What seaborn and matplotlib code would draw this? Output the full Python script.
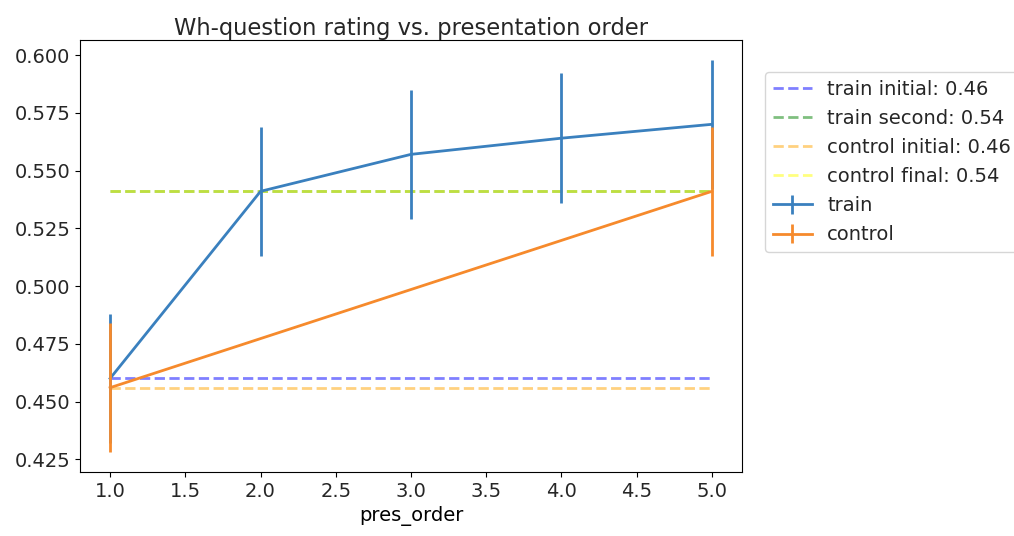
import numpy as np
import pandas as pd
import matplotlib
matplotlib.use("Agg")
import matplotlib.pyplot as plt
import seaborn as sns
from matplotlib.container import ErrorbarContainer

# Mean Wh-question rating per presentation position
train_order = [1, 2, 3, 4, 5]
train_rating = [0.460, 0.541, 0.557, 0.564, 0.570]
train_err = [0.028, 0.028, 0.028, 0.028, 0.028]

control_order = [1, 5]
control_rating = [0.456, 0.541]
control_err = [0.028, 0.028]

# Reference levels (initial / later block means)
ref_labels = ["train initial: 0.46", "train second: 0.54",
              "control initial: 0.46", "control final: 0.54"]
ref_values = [0.460, 0.541, 0.456, 0.541]
ref_colors = ["blue", "green", "orange", "yellow"]

groups = ["train", "control"]
group_colors = ["#3a80be", "#f68a2c"]

df = pd.DataFrame({
    "pres_order": train_order + control_order,
    "rating": train_rating + control_rating,
    "err": train_err + control_err,
    "group": ["train"] * len(train_order) + ["control"] * len(control_order),
})

plt.rcParams["font.family"] = ["DejaVu Sans"]
plt.rcParams["text.color"] = "#262626"
plt.rcParams["xtick.labelcolor"] = "#262626"
plt.rcParams["ytick.labelcolor"] = "#262626"
fig = plt.figure(figsize=(10.14, 5.36), dpi=100)
ax = fig.add_axes([80 / 1014, 64 / 536, 662 / 1014, 432 / 536])

ref_handles = []
for lab, val, col in zip(ref_labels, ref_values, ref_colors):
    h = ax.hlines(val, 1, 5, colors=col, linestyles="--", alpha=0.5,
                  linewidth=2.0, label=lab)
    ref_handles.append(h)

sns.lineplot(data=df, x="pres_order", y="rating", hue="group",
             hue_order=groups, palette=group_colors, errorbar=None,
             linewidth=2.0, ax=ax, legend=False)

group_handles = []
for g, col, line in zip(groups, group_colors, ax.lines[-2:]):
    sub = df[df["group"] == g]
    eb = ax.errorbar(sub["pres_order"], sub["rating"], yerr=sub["err"],
                     fmt="none", ecolor=col, elinewidth=2.0)
    group_handles.append(ErrorbarContainer((line, (), eb.lines[2]),
                                           has_yerr=True, label=g))

ax.set_title("Wh-question rating vs. presentation order", fontsize=16.3, pad=1)
ax.set_xlabel("pres_order", fontsize=14)
ax.set_ylabel("")
ax.tick_params(labelsize=14)
ax.set_yticks(np.arange(0.425, 0.6001, 0.025))

fig.legend(ref_handles + group_handles, ref_labels + groups,
           loc="upper left", bbox_to_anchor=(765 / 1014, 1 - 72 / 536),
           borderaxespad=0, fontsize=14, handlelength=2.0, labelspacing=0.52)

fig.savefig("out.png", dpi=100)
